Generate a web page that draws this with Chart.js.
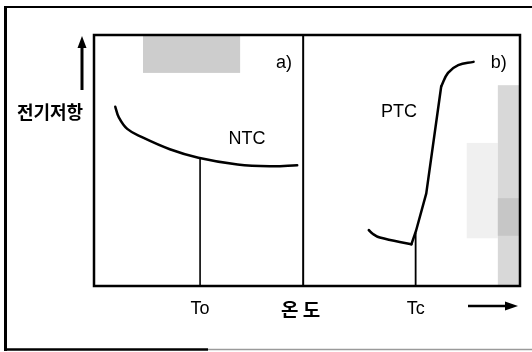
<!DOCTYPE html>
<html>
<head>
<meta charset="utf-8">
<script src="https://cdn.jsdelivr.net/npm/chart.js@4/dist/chart.umd.min.js"></script>
<style>
html,body{margin:0;padding:0;background:#fff;}
#wrap{width:532px;height:352px;position:relative;}
</style>
</head>
<body>
<div id="wrap"><canvas id="c" width="532" height="352"></canvas></div>
<script>
// ---- data (relative temperature 0-100, relative resistance 0-100) ----
const ntcX = [5.0, 5.8, 7.8, 11.4, 17.8, 24.5, 33.7, 41.7, 47.7];
const ntcY = [71.4, 67.3, 62.6, 59.2, 54.5, 51.1, 48.4, 47.7, 48.1];
const ptcLowX = [64.5, 65.5, 67.1, 74.5];
const ptcLowY = [22.3, 20.7, 19.3, 16.6];
const ptcRiseX = [74.5, 75.6, 78.0, 81.5];
const ptcRiseY = [16.6, 22.0, 36.9, 79.5];
const ptcTopX = [81.5, 83.1, 85.5, 89.1];
const ptcTopY = [79.5, 84.9, 88.0, 89.3];
const toX = [24.9, 24.9];
const toY = [51.1, 0];
const tcX = [75.5, 75.5];
const tcY = [21.0, 0];
const tickValues = [24.9, 48.5, 75.5];
const tickLabels = ['To', '온 도', 'Tc'];
const dividerX = 49.1;
const yTitle = '전기저항';

const pts = (xs, ys) => xs.map((x, i) => ({x: x, y: ys[i]}));
const lineDs = (xs, ys, w, t) => ({
  data: pts(xs, ys), showLine: true, borderColor: '#000', borderWidth: w,
  pointRadius: 0, tension: t, fill: false, borderCapStyle: 'round', borderJoinStyle: 'round'
});

const deco = {
  id: 'deco',
  beforeDatasetsDraw(chart) {
    const ctx = chart.ctx, xs = chart.scales.x, ys = chart.scales.y, a = chart.chartArea;
    ctx.save();
    // halftone-like shading
    ctx.fillStyle = '#cdcdcd';
    ctx.fillRect(xs.getPixelForValue(11.5), a.top, xs.getPixelForValue(34.3) - xs.getPixelForValue(11.5), ys.getPixelForValue(84.9) - a.top);
    ctx.fillStyle = '#f0f0f0';
    ctx.fillRect(xs.getPixelForValue(87.5), ys.getPixelForValue(57), xs.getPixelForValue(94.8) - xs.getPixelForValue(87.5), ys.getPixelForValue(19) - ys.getPixelForValue(57));
    ctx.fillStyle = '#d8d8d8';
    ctx.fillRect(xs.getPixelForValue(94.8), ys.getPixelForValue(80), a.right - xs.getPixelForValue(94.8), a.bottom - ys.getPixelForValue(80));
    ctx.fillStyle = '#c6c6c6';
    ctx.fillRect(xs.getPixelForValue(94.8), ys.getPixelForValue(35), a.right - xs.getPixelForValue(94.8), ys.getPixelForValue(20) - ys.getPixelForValue(35));
    ctx.restore();
  },
  afterDatasetsDraw(chart) {
    const ctx = chart.ctx, xs = chart.scales.x, ys = chart.scales.y, a = chart.chartArea;
    ctx.save();
    ctx.strokeStyle = '#000';
    // plot box
    ctx.lineWidth = 2.5;
    ctx.strokeRect(a.left, a.top, a.right - a.left, a.bottom - a.top);
    // divider
    ctx.lineWidth = 2;
    const dx = xs.getPixelForValue(dividerX);
    ctx.beginPath(); ctx.moveTo(dx, a.top); ctx.lineTo(dx, a.bottom); ctx.stroke();
    // outer frame
    ctx.lineWidth = 3;
    ctx.beginPath(); ctx.moveTo(5.5, 6); ctx.lineTo(5.5, 351); ctx.stroke();
    ctx.lineWidth = 2;
    ctx.beginPath(); ctx.moveTo(5, 7); ctx.lineTo(532, 7); ctx.stroke();
    ctx.lineWidth = 2.5;
    ctx.beginPath(); ctx.moveTo(5, 349.5); ctx.lineTo(208, 349.5); ctx.stroke();
    ctx.strokeStyle = '#9a9a9a'; ctx.lineWidth = 1.5;
    ctx.beginPath(); ctx.moveTo(208, 349.5); ctx.lineTo(532, 349.5); ctx.stroke();
    ctx.strokeStyle = '#000';

    // labels inside
    ctx.fillStyle = '#000';
    ctx.textAlign = 'center'; ctx.textBaseline = 'middle';
    ctx.font = '18px "Liberation Sans", Arial, sans-serif';
    ctx.fillText('NTC', xs.getPixelForValue(35.9), ys.getPixelForValue(58.6));
    ctx.fillText('PTC', xs.getPixelForValue(71.6), ys.getPixelForValue(69.3));
    ctx.fillText('a)', xs.getPixelForValue(44.6), ys.getPixelForValue(88.8));
    ctx.fillText('b)', xs.getPixelForValue(95.0), ys.getPixelForValue(88.8));

    // x tick labels
    tickValues.forEach((v, i) => {
      const isK = /[가-힣]/.test(tickLabels[i]);
      ctx.font = isK ? 'bold 19px "Noto Sans CJK KR", sans-serif' : '18px "Liberation Sans", Arial, sans-serif';
      ctx.fillText(tickLabels[i], xs.getPixelForValue(v), a.bottom + (isK ? 24 : 23));
    });

    // y title and arrow
    ctx.font = 'bold 18px "Noto Sans CJK KR", sans-serif';
    ctx.fillText(yTitle, 50, ys.getPixelForValue(69.3));
    const ax = 82;
    ctx.lineWidth = 3;
    ctx.beginPath(); ctx.moveTo(ax, a.top + 55); ctx.lineTo(ax, a.top + 10); ctx.stroke();
    ctx.beginPath(); ctx.moveTo(ax, a.top + 1); ctx.lineTo(ax - 4.5, a.top + 13); ctx.lineTo(ax + 4.5, a.top + 13); ctx.closePath(); ctx.fill();
    // right arrow
    const ay = a.bottom + 20;
    ctx.lineWidth = 2.5;
    ctx.beginPath(); ctx.moveTo(468, ay); ctx.lineTo(508, ay); ctx.stroke();
    ctx.beginPath(); ctx.moveTo(518, ay); ctx.lineTo(505, ay - 4.5); ctx.lineTo(505, ay + 4.5); ctx.closePath(); ctx.fill();
    ctx.restore();
  }
};

new Chart(document.getElementById('c'), {
  type: 'scatter',
  data: {
    datasets: [
      lineDs(ntcX, ntcY, 2.5, 0.4),
      lineDs(toX, toY, 1.6, 0),
      lineDs(ptcLowX, ptcLowY, 2.5, 0.4),
      lineDs(ptcRiseX, ptcRiseY, 2.5, 0),
      lineDs(ptcTopX, ptcTopY, 2.5, 0.4),
      lineDs(tcX, tcY, 1.8, 0)
    ]
  },
  options: {
    responsive: false,
    animation: false,
    layout: {padding: {left: 94, top: 35, right: 12, bottom: 66}},
    plugins: {legend: {display: false}, tooltip: {enabled: false}},
    scales: {
      x: {type: 'linear', min: 0, max: 100, display: false},
      y: {type: 'linear', min: 0, max: 100, display: false}
    }
  },
  plugins: [deco]
});
</script>
</body>
</html>
